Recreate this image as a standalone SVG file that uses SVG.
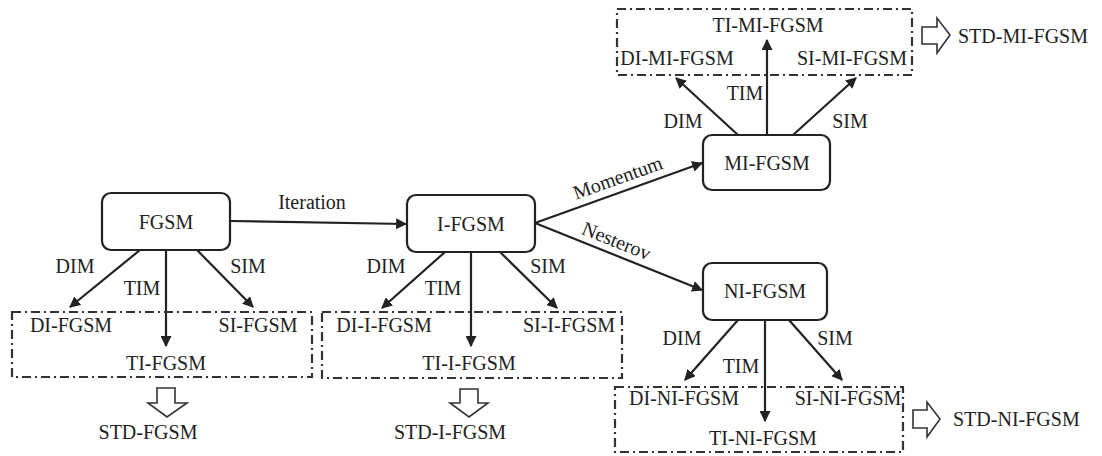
<svg xmlns="http://www.w3.org/2000/svg" width="1102" height="456" viewBox="0 0 1102 456">
<defs>
<marker id="ah" viewBox="0 0 10 10" refX="9" refY="5" markerWidth="5" markerHeight="5" orient="auto" markerUnits="strokeWidth">
<path d="M0,0 L10,5 L0,10 z" fill="#222"/>
</marker>
<style>
text{font-size:20px;fill:#222}
.m{text-anchor:middle}
.node{fill:#fff;stroke:#222;stroke-width:2.2}
.grp{fill:none;stroke:#333;stroke-width:2.2;stroke-dasharray:9 4 2 4}
.edge{fill:none;stroke:#222;stroke-width:2.2;marker-end:url(#ah)}
.big{fill:#fff;stroke:#333;stroke-width:1.6}
</style>
</defs>
<rect width="1102" height="456" fill="#fff"/>
<g font-family="Liberation Serif, DejaVu Serif, serif">
<g id="connectors">
<path class="edge" d="M230,221 L406,224"/>
<path class="edge" d="M535,223 L702,163"/>
<path class="edge" d="M535,223 L702,290"/>
<path class="edge" d="M140,250 L70,307"/>
<path class="edge" d="M166,250 L166,346"/>
<path class="edge" d="M197,250 L253,307"/>
<path class="edge" d="M445,252 L382,308"/>
<path class="edge" d="M471,252 L471,346"/>
<path class="edge" d="M500,252 L557,308"/>
<path class="edge" d="M738,135 L676,78"/>
<path class="edge" d="M767,135 L767,40"/>
<path class="edge" d="M793,135 L856,78"/>
<path class="edge" d="M738,320 L685,380"/>
<path class="edge" d="M765,320 L765,421"/>
<path class="edge" d="M789,320 L842,380"/>
<text x="312" y="209" class="m">Iteration</text>
<text transform="translate(620,184) rotate(-19.6)" class="m">Momentum</text>
<text transform="translate(614,247) rotate(21.7)" class="m">Nesterov</text>
<text x="75" y="273" class="m">DIM</text>
<text x="142" y="295" class="m">TIM</text>
<text x="248" y="273" class="m">SIM</text>
<text x="386" y="273" class="m">DIM</text>
<text x="443" y="295" class="m">TIM</text>
<text x="548" y="273" class="m">SIM</text>
<text x="683" y="128" class="m">DIM</text>
<text x="745" y="100" class="m">TIM</text>
<text x="850" y="128" class="m">SIM</text>
<text x="682" y="345" class="m">DIM</text>
<text x="741" y="373" class="m">TIM</text>
<text x="835" y="345" class="m">SIM</text>
</g>

<g id="FGSM">
<rect class="node" x="102" y="193" width="128" height="57" rx="9"/>
<text x="166" y="229" class="m">FGSM</text>
</g>
<g id="I-FGSM">
<rect class="node" x="407" y="195" width="128" height="57" rx="9"/>
<text x="471" y="231" class="m">I-FGSM</text>
</g>
<g id="MI-FGSM">
<rect class="node" x="703" y="135" width="127" height="55" rx="9"/>
<text x="767" y="170" class="m">MI-FGSM</text>
</g>
<g id="NI-FGSM">
<rect class="node" x="703" y="263" width="124" height="57" rx="9"/>
<text x="765" y="298" class="m">NI-FGSM</text>
</g>

<g id="group-FGSM">
<rect class="grp" x="12" y="312" width="300" height="65"/>
<text x="71" y="332" class="m">DI-FGSM</text>
<text x="258" y="332" class="m">SI-FGSM</text>
<text x="166" y="370" class="m">TI-FGSM</text>
<path class="big" d="M157,388 L175,388 L175,403 L187,403 L167,417 L148,403 L157,403 z"/>
<text x="148" y="439" class="m">STD-FGSM</text>
</g>
<g id="group-I-FGSM">
<rect class="grp" x="322" y="312" width="300" height="66"/>
<text x="384" y="332" class="m">DI-I-FGSM</text>
<text x="569" y="332" class="m">SI-I-FGSM</text>
<text x="469" y="370" class="m">TI-I-FGSM</text>
<path class="big" d="M460,389 L478,389 L478,403 L488,403 L469,417 L450,403 L460,403 z"/>
<text x="450" y="439" class="m">STD-I-FGSM</text>
</g>
<g id="group-MI-FGSM">
<rect class="grp" x="617" y="9" width="295" height="66"/>
<text x="768" y="32" class="m">TI-MI-FGSM</text>
<text x="677" y="65" class="m">DI-MI-FGSM</text>
<text x="852" y="65" class="m">SI-MI-FGSM</text>
<path class="big" d="M922,27 L937,27 L937,18 L950,35 L937,53 L937,44 L922,44 z"/>
<text x="958" y="43">STD-MI-FGSM</text>
</g>
<g id="group-NI-FGSM">
<rect class="grp" x="615" y="387" width="288" height="65"/>
<text x="684" y="405" class="m">DI-NI-FGSM</text>
<text x="848" y="405" class="m">SI-NI-FGSM</text>
<text x="763" y="445" class="m">TI-NI-FGSM</text>
<path class="big" d="M913,410 L927,410 L927,402 L940,419 L927,437 L927,428 L913,428 z"/>
<text x="953" y="426">STD-NI-FGSM</text>
</g>
</g>
</svg>
